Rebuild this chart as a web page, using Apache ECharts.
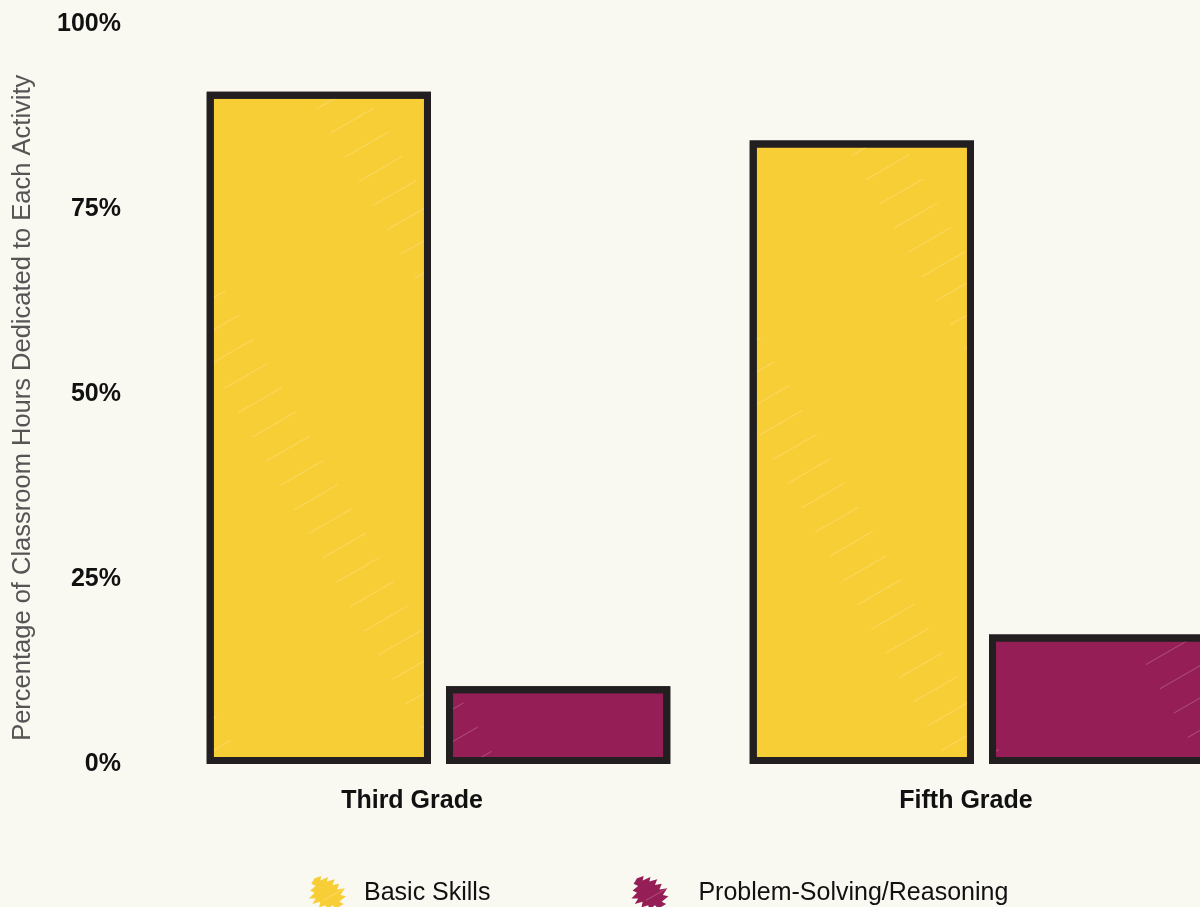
<!DOCTYPE html>
<html>
<head>
<meta charset="utf-8">
<script src="https://cdn.jsdelivr.net/npm/echarts@6/dist/echarts.min.js"></script>
<style>
  html, body { margin: 0; padding: 0; background: #f9f8f1; }
  #chart { width: 1200px; height: 907px; }
</style>
</head>
<body>
<div id="chart"></div>
<script>
const categories = ['Third Grade', 'Fifth Grade'];
const basicSkills = [90.9, 84.3];
const problemSolving = [10.5, 17.5];
const seriesNames = ['Basic Skills', 'Problem-Solving/Reasoning'];
const yTicks = [0, 25, 50, 75, 100];
const yAxisTitle = 'Percentage of Classroom Hours Dedicated to Each Activity';

const chart = echarts.init(document.getElementById('chart'), null, { renderer: 'canvas' });

const hatch = {
  symbol: 'rect',
  symbolSize: 1,
  color: 'rgba(255,255,255,0.2)',
  dashArrayX: [[50, 170]],
  dashArrayY: [1, 27],
  rotation: -Math.PI / 6
};

const scribble = 'path://M6,4 L12,2 L11,6 L18,3 L17,7 L24,5 L22,10 L28,9 L26,14 L33,13 L29,19 L34,20 L28,25 L32,27 L25,31 L22,28 L17,32 L16,28 L10,30 L11,25 L4,27 L7,22 L1,22 L6,17 L2,15 L7,11 L3,9 Z';

const font = 'Liberation Sans, Arial, sans-serif';

chart.setOption({
  backgroundColor: '#f9f8f1',
  animation: false,
  grid: { left: 167, width: 1086, top: 24.5, height: 739.5, containLabel: false, outerBoundsMode: 'none' },
  legend: {
    left: 304,
    top: 871,
    itemWidth: 37,
    itemHeight: 34,
    itemGap: 141,
    itemStyle: { borderWidth: 0 },
    data: [
      { name: seriesNames[0], icon: scribble },
      { name: seriesNames[1], icon: scribble, textStyle: { padding: [0, 0, 0, 25] } }
    ],
    textStyle: {
      fontFamily: font,
      fontSize: 25,
      color: '#111111',
      padding: [0, 0, 0, 13]
    }
  },
  xAxis: {
    type: 'category',
    data: categories,
    axisLine: { show: false },
    axisTick: { show: false },
    axisLabel: {
      margin: 24.5,
      fontFamily: font,
      fontSize: 25,
      fontWeight: 'bold',
      color: '#111111',
      formatter: function (v) { return v === categories[0] ? '{a|' + v + '}' : '{b|' + v + '}'; },
      rich: {
        a: { fontFamily: font, fontSize: 25, fontWeight: 'bold', color: '#111111', padding: [0, 53, 0, 0] },
        b: { fontFamily: font, fontSize: 25, fontWeight: 'bold', color: '#111111', padding: [0, 31, 0, 0] }
      }
    }
  },
  yAxis: {
    type: 'value',
    min: yTicks[0],
    max: yTicks[yTicks.length - 1],
    interval: 25,
    name: yAxisTitle,
    nameLocation: 'middle',
    nameGap: 131,
    nameTextStyle: {
      fontFamily: font,
      fontSize: 25.5,
      color: '#555555',
      padding: [0, 27, 0, 0]
    },
    axisLine: { show: false },
    axisTick: { show: false },
    splitLine: { show: false },
    axisLabel: {
      margin: 46,
      fontFamily: font,
      fontSize: 25,
      fontWeight: 'bold',
      color: '#111111',
      formatter: function (v) { return v + '%'; }
    }
  },
  series: [
    {
      name: seriesNames[0],
      type: 'bar',
      data: basicSkills,
      barWidth: '41.3%',
      barGap: '6.7%',
      itemStyle: { color: '#f8ce37', borderColor: '#231f20', borderWidth: 7, decal: hatch }
    },
    {
      name: seriesNames[1],
      type: 'bar',
      data: problemSolving,
      barWidth: '41.3%',
      barGap: '6.7%',
      itemStyle: { color: '#961e56', borderColor: '#231f20', borderWidth: 7, decal: hatch }
    }
  ]
});
</script>
</body>
</html>
